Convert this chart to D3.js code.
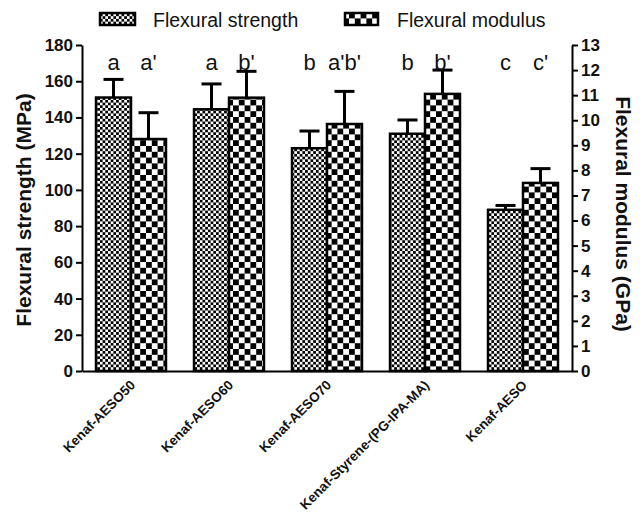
<!DOCTYPE html>
<html><head><meta charset="utf-8">
<script src="https://cdn.jsdelivr.net/npm/d3@7/dist/d3.min.js"></script>
<style>body{margin:0;background:#fff}svg{display:block}text{font-family:Arial,"Liberation Sans",sans-serif}</style>
</head><body><svg id="c" width="640" height="520"></svg>
<script>
const categories = ["Kenaf-AESO50","Kenaf-AESO60","Kenaf-AESO70","Kenaf-Styrene-(PG-IPA-MA)","Kenaf-AESO"];
const strength = [151, 144.5, 123, 131, 89];
const strengthErr = [10, 14, 9.5, 7.6, 2.4];
const modulus = [9.25, 10.9, 9.85, 11.05, 7.5];
const modulusErr = [1.05, 1.05, 1.3, 0.95, 0.57];
const strengthLetters = ["a","a","b","b","c"];
const modulusLetters = ["a'","b'","a'b'","b'","c'"];
const leftTicks = [0,20,40,60,80,100,120,140,160,180];
const rightTicks = [0,1,2,3,4,5,6,7,8,9,10,11,12,13];
const seriesNames = ["Flexural strength","Flexural modulus"];

const svg = d3.select("#c");
const L = 82, R = 572, T = 45, B = 371;

const defs = svg.append("defs");
const p1 = defs.append("pattern").attr("id","fine").attr("patternUnits","userSpaceOnUse").attr("width",5.4).attr("height",5.4);
p1.append("rect").attr("width",5.4).attr("height",5.4).attr("fill","#fff");
p1.append("rect").attr("width",2.7).attr("height",2.7).attr("fill","#000");
p1.append("rect").attr("x",2.7).attr("y",2.7).attr("width",2.7).attr("height",2.7).attr("fill","#000");
const p2 = defs.append("pattern").attr("id","coarse").attr("patternUnits","userSpaceOnUse").attr("width",11.6).attr("height",11.6).attr("x",1).attr("y",1);
p2.append("rect").attr("width",11.6).attr("height",11.6).attr("fill","#fff");
p2.append("rect").attr("width",5.8).attr("height",5.8).attr("fill","#000");
p2.append("rect").attr("x",5.8).attr("y",5.8).attr("width",5.8).attr("height",5.8).attr("fill","#000");

const x = d3.scaleBand().domain(categories).range([L,R]).paddingInner(0.286).paddingOuter(0.143);
const xi = d3.scaleBand().domain([0,1]).range([0,x.bandwidth()]);
const yL = d3.scaleLinear().domain([0,180]).range([B,T]);
const yR = d3.scaleLinear().domain([0,13]).range([B,T]);

// axes
const axL = svg.append("g").attr("transform",`translate(${L},0)`)
  .call(d3.axisLeft(yL).tickValues(leftTicks).tickSize(6).tickPadding(3).tickSizeOuter(0));
const axR = svg.append("g").attr("transform",`translate(${R},0)`)
  .call(d3.axisRight(yR).tickValues(rightTicks).tickSize(6).tickPadding(3).tickSizeOuter(0));
[axL,axR].forEach(a=>{
  a.select(".domain").attr("stroke","#000").attr("stroke-width",2);
  a.selectAll(".tick line").attr("stroke","#000").attr("stroke-width",2);
  a.selectAll(".tick text").attr("font-size",17).attr("font-weight","bold").attr("fill","#111").attr("font-family","Arial,'Liberation Sans',sans-serif");
});
const axB = svg.append("g").attr("transform",`translate(0,${B})`)
  .call(d3.axisBottom(x).tickSize(0).tickSizeOuter(0).tickFormat(""));
axB.select(".domain").attr("stroke","#000").attr("stroke-width",2);

// x labels
svg.append("g").selectAll("text").data(categories).join("text")
  .attr("transform",d=>`translate(${x(d)+x.bandwidth()/2+5},386) rotate(-45)`)
  .attr("text-anchor","end").attr("font-size",13.5).attr("font-weight","bold").attr("fill","#111")
  .text(d=>d);

// bars
const series = [
  {vals:strength, err:strengthErr, sc:yL, fill:"url(#fine)", letters:strengthLetters},
  {vals:modulus, err:modulusErr, sc:yR, fill:"url(#coarse)", letters:modulusLetters}
];
series.forEach((s,si)=>{
  const g = svg.append("g");
  categories.forEach((c,i)=>{
    const bx = x(c)+xi(si), bw = xi.bandwidth();
    const cx = bx+bw/2;
    const top = s.sc(s.vals[i]), et = s.sc(s.vals[i]+s.err[i]);
    g.append("line").attr("x1",cx).attr("x2",cx).attr("y1",top).attr("y2",et).attr("stroke","#000").attr("stroke-width",3);
    g.append("line").attr("x1",cx-10).attr("x2",cx+10).attr("y1",et).attr("y2",et).attr("stroke","#000").attr("stroke-width",3);
    g.append("rect").attr("x",bx).attr("y",top).attr("width",bw).attr("height",B-top)
      .attr("fill",s.fill).attr("stroke","#000").attr("stroke-width",2.5);
    svg.append("text").attr("x",cx).attr("y",70).attr("text-anchor","middle")
      .attr("font-size",22).attr("fill","#111").text(s.letters[i]);
  });
});

// axis titles
svg.append("text").attr("transform",`translate(31,210) rotate(-90)`).attr("text-anchor","middle")
  .attr("font-size",21).attr("font-weight","bold").attr("fill","#111").text("Flexural strength (MPa)");
svg.append("text").attr("transform",`translate(616,214) rotate(90)`).attr("text-anchor","middle")
  .attr("font-size",21).attr("font-weight","bold").attr("fill","#111").text("Flexural modulus (GPa)");

// legend
const leg = [{x:100,w:35,fill:"url(#fine)",tx:153},{x:345,w:33,fill:"url(#coarse)",tx:397}];
leg.forEach((l,i)=>{
  svg.append("rect").attr("x",l.x).attr("y",13).attr("width",l.w).attr("height",12)
    .attr("fill",l.fill).attr("stroke","#000").attr("stroke-width",2.5);
  svg.append("text").attr("x",l.tx).attr("y",27).attr("font-size",19.5).attr("fill","#111").text(seriesNames[i]);
});
</script></body></html>
